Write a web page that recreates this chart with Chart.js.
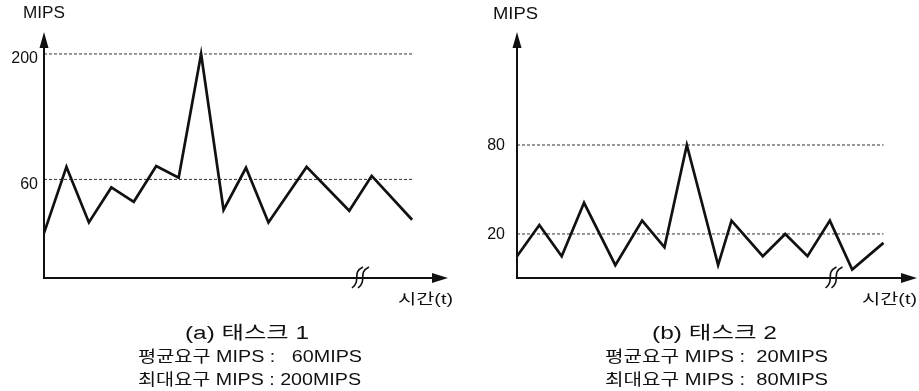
<!DOCTYPE html>
<html>
<head>
<meta charset="utf-8">
<script src="https://cdn.jsdelivr.net/npm/chart.js@4.4.0/dist/chart.umd.min.js"></script>
<style>
  html, body { margin: 0; padding: 0; background: #fff; }
  #wrap { position: relative; width: 919px; height: 391px; }
  canvas { position: absolute; top: 0; }
</style>
</head>
<body>
<div id="wrap">
  <canvas id="chartA" width="460" height="391" style="left:0"></canvas>
  <canvas id="chartB" width="459" height="391" style="left:460px"></canvas>
</div>
<script>
// 태스크 1 데이터 (시간, MIPS)
const timeA = [0, 1, 2, 3, 4, 5, 6, 7, 8, 9, 10, 11.7, 13.6, 14.6, 16.4];
const mipsA = [0, 74, 12, 51, 35, 75, 62, 200, 26, 73, 12, 74, 25, 64, 15];
const ticksA = [60, 200];
const avgA = 60;
const peakA = 200;

// 태스크 2 데이터
const timeB = [0, 1, 2, 3, 4.4, 5.6, 6.6, 7.6, 9, 9.6, 11, 12, 13, 14, 15, 16.4];
const mipsB = [5, 26, 5, 41, -1, 29, 11, 80, -1, 29, 5, 20, 5, 29, -4, 14];
const ticksB = [20, 80];
const avgB = 20;
const peakB = 80;

const FONT = '"Liberation Sans", "Noto Sans CJK KR", sans-serif';
const INK = '#111';

// 지정 폭에 맞춰 텍스트 그리기
function fitText(ctx, txt, cx, cy, w, size) {
  ctx.save();
  ctx.font = size + 'px ' + FONT;
  ctx.fillStyle = INK;
  ctx.textAlign = 'center';
  ctx.textBaseline = 'middle';
  const m = ctx.measureText(txt).width;
  ctx.translate(cx, cy);
  ctx.scale(w / m, 1);
  ctx.fillText(txt, 0, 0);
  ctx.restore();
}

// 축, 화살표, 생략 표시, 캡션
const decorPlugin = {
  id: 'decor',
  afterDatasetsDraw(chart, args, opts) {
    const ctx = chart.ctx;
    const { left: L, right: R, top: T, bottom: B } = chart.chartArea;
    ctx.save();
    ctx.strokeStyle = INK;
    ctx.fillStyle = INK;
    ctx.lineWidth = 2;
    // y축
    ctx.beginPath();
    ctx.moveTo(L, B + 1);
    ctx.lineTo(L, T + 12);
    ctx.stroke();
    ctx.beginPath();
    ctx.moveTo(L, T);
    ctx.lineTo(L - 4.5, T + 16);
    ctx.lineTo(L + 4.5, T + 16);
    ctx.closePath();
    ctx.fill();
    // x축
    ctx.beginPath();
    ctx.moveTo(L - 1, B);
    ctx.lineTo(R - 12, B);
    ctx.stroke();
    ctx.beginPath();
    ctx.moveTo(R, B);
    ctx.lineTo(R - 16, B - 5);
    ctx.lineTo(R - 16, B + 5);
    ctx.closePath();
    ctx.fill();
    // 생략 표시
    ctx.lineWidth = 1.6;
    const bx = opts.breakX;
    [-3, 3].forEach(d => {
      const x = bx + d;
      ctx.beginPath();
      ctx.moveTo(x + 6, B - 11);
      ctx.bezierCurveTo(x - 6, B - 5, x + 5, B + 2, x - 5, B + 10);
      ctx.stroke();
    });
    ctx.restore();
    opts.texts.forEach(t => fitText(ctx, t.text, t.x, t.y, t.w, t.size));
  }
};

function makeChart(id, time, mips, ticks, avg, peak, cfg) {
  const last = time[time.length - 1];
  const ctx = document.getElementById(id).getContext('2d');
  return new Chart(ctx, {
    type: 'line',
    data: {
      datasets: [
        {
          data: time.map((t, i) => ({ x: t, y: mips[i] })),
          borderColor: INK,
          borderWidth: 2.7,
          borderJoinStyle: 'miter',
          pointRadius: 0,
          tension: 0
        },
        {
          data: [{ x: time[0], y: avg }, { x: last, y: avg }],
          borderColor: '#333',
          borderWidth: 1,
          borderDash: [3, 2],
          pointRadius: 0
        },
        {
          data: [{ x: time[0], y: peak }, { x: last, y: peak }],
          borderColor: '#333',
          borderWidth: 1,
          borderDash: [3, 2],
          pointRadius: 0
        }
      ]
    },
    options: {
      responsive: false,
      animation: false,
      layout: { padding: cfg.padding },
      scales: {
        x: { type: 'linear', min: 0, max: cfg.xMax, display: false },
        y: {
          type: 'linear',
          min: cfg.yMin,
          max: cfg.yMax,
          grid: { display: false, drawTicks: false },
          border: { display: false },
          afterBuildTicks: scale => { scale.ticks = ticks.map(v => ({ value: v })); },
          afterFit: scale => { scale.width = cfg.axisWidth; },
          ticks: {
            padding: cfg.tickPad,
            labelOffset: cfg.labelOffset,
            color: INK,
            font: { family: FONT, size: 16 }
          }
        }
      },
      plugins: {
        legend: { display: false },
        tooltip: { enabled: false },
        decor: { breakX: cfg.breakX, texts: cfg.texts }
      }
    },
    plugins: [decorPlugin]
  });
}

makeChart('chartA', timeA, mipsA, ticksA, avgA, peakA, {
  padding: { left: 0, top: 32, right: 12, bottom: 113 },
  xMax: 18, yMin: -50, yMax: 224.5,
  axisWidth: 44, tickPad: 6, labelOffset: 5,
  breakX: 360,
  texts: [
    { text: 'MIPS', x: 44, y: 14, w: 42, size: 16 },
    { text: '시간(t)', x: 425.5, y: 300, w: 55, size: 15 },
    { text: '(a) 태스크 1', x: 247, y: 334, w: 124, size: 18 },
    { text: '평균요구 MIPS :   60MIPS', x: 250, y: 358, w: 224, size: 16 },
    { text: '최대요구 MIPS : 200MIPS', x: 249.5, y: 380.5, w: 223, size: 16 }
  ]
});

makeChart('chartB', timeB, mipsB, ticksB, avgB, peakB, {
  padding: { left: 0, top: 32, right: 2, bottom: 113 },
  xMax: 17.9, yMin: -9.7, yMax: 156.2,
  axisWidth: 57, tickPad: 12, labelOffset: 1,
  breakX: 373.5,
  texts: [
    { text: 'MIPS', x: 55.5, y: 15, w: 45, size: 16 },
    { text: '시간(t)', x: 429.5, y: 300, w: 55, size: 15 },
    { text: '(b) 태스크 2', x: 254.5, y: 334, w: 125, size: 18 },
    { text: '평균요구 MIPS :  20MIPS', x: 256.5, y: 358, w: 223, size: 16 },
    { text: '최대요구 MIPS :  80MIPS', x: 256.5, y: 380.5, w: 223, size: 16 }
  ]
});
</script>
</body>
</html>
